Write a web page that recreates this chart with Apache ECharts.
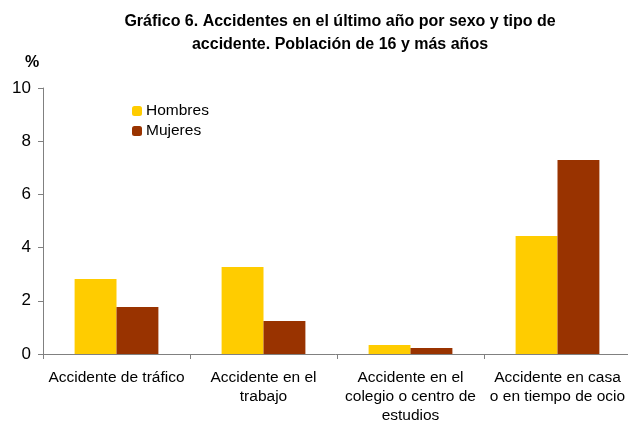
<!DOCTYPE html>
<html>
<head>
<meta charset="utf-8">
<script src="https://cdn.jsdelivr.net/npm/echarts@6/dist/echarts.min.js"></script>
<style>
  html, body { margin: 0; padding: 0; background: #fff; }
  #chart { width: 628px; height: 423px; }
</style>
</head>
<body>
<div id="chart"></div>
<script>
const categories = [
  "Accidente de tráfico",
  "Accidente en el\ntrabajo",
  "Accidente en el\ncolegio o centro de\nestudios",
  "Accidente en casa\no en tiempo de ocio"
];
const hombres = [2.82, 3.27, 0.34, 4.44];
const mujeres = [1.77, 1.24, 0.23, 7.29];
const yTicks = [0, 2, 4, 6, 8, 10];

const font = "Liberation Sans, Arial, sans-serif";
const chart = echarts.init(document.getElementById("chart"), null, { renderer: "canvas" });

chart.setOption({
  animation: false,
  title: {
    text: "Gráfico 6. Accidentes en el último año por sexo y tipo de\naccidente. Población de 16 y más años",
    left: 335,
    top: 5,
    textAlign: "center",
    textStyle: { fontFamily: font, fontSize: 16, fontWeight: "bold", color: "#000", lineHeight: 23 }
  },
  graphic: [{
    type: "text",
    left: 25,
    top: 55,
    style: { text: "%", font: "bold 16px " + font, fill: "#000" }
  }],
  legend: {
    left: 127,
    top: 98,
    orient: "vertical",
    itemWidth: 10,
    itemHeight: 10,
    itemGap: 4,
    itemStyle: { borderWidth: 0 },
    textStyle: { fontFamily: font, fontSize: 15.5, color: "#000", padding: [0, 0, 0, -1] },
    data: ["Hombres", "Mujeres"]
  },
  grid: { left: 43, right: -3, top: 88, bottom: 69, containLabel: false, outerBoundsMode: "none" },
  xAxis: {
    type: "category",
    data: categories,
    axisLine: { lineStyle: { color: "#808080", width: 1 } },
    axisTick: { show: true, length: 5, alignWithLabel: false, lineStyle: { color: "#808080" } },
    axisLabel: { fontFamily: font, fontSize: 15.5, color: "#000", lineHeight: 19, margin: 14, interval: 0 }
  },
  yAxis: {
    type: "value",
    min: yTicks[0],
    max: yTicks[yTicks.length - 1],
    interval: 2,
    splitLine: { show: false },
    axisLine: { show: true, lineStyle: { color: "#808080", width: 1 } },
    axisTick: { show: true, length: 5, lineStyle: { color: "#808080" } },
    axisLabel: { fontFamily: font, fontSize: 17, color: "#000", margin: 12 }
  },
  series: [
    {
      name: "Hombres",
      type: "bar",
      data: hombres,
      barGap: "0%",
      barCategoryGap: "43%",
      itemStyle: { color: "#FFCC00" }
    },
    {
      name: "Mujeres",
      type: "bar",
      data: mujeres,
      itemStyle: { color: "#993300" }
    }
  ]
});
</script>
</body>
</html>
